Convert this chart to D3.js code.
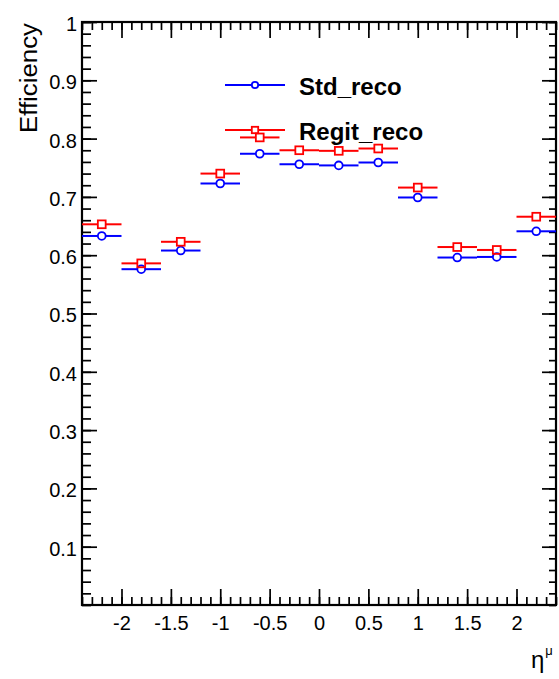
<!DOCTYPE html>
<html>
<head>
<meta charset="utf-8">
<script src="https://cdn.jsdelivr.net/npm/d3@7"></script>
<style>
body { margin: 0; background: #fff; }
svg { display: block; font-family: "Liberation Sans", Arial, Helvetica, sans-serif; }
</style>
</head>
<body>
<svg id="chart" width="559" height="679"></svg>
<script>

// bin edges in eta (12 bins of 0.4)
var etaEdges = [-2.4, -2.0, -1.6, -1.2, -0.8, -0.4, 0.0, 0.4, 0.8, 1.2, 1.6, 2.0, 2.4];

// efficiencies
var stdReco   = [0.633, 0.576, 0.608, 0.723, 0.774, 0.756, 0.754, 0.759, 0.699, 0.596, 0.597, 0.641];
var regitReco = [0.653, 0.586, 0.623, 0.740, 0.802, 0.780, 0.779, 0.783, 0.716, 0.614, 0.609, 0.666];

var seriesNames = ["Std_reco", "Regit_reco"];

// axis labels
var xTickValues = [-2, -1.5, -1, -0.5, 0, 0.5, 1, 1.5, 2];
var yTickValues = [0.1, 0.2, 0.3, 0.4, 0.5, 0.6, 0.7, 0.8, 0.9, 1];

var svg = d3.select("#chart"),
    margin = {top: 22, right: 3, bottom: 74, left: 82},
    width = 559 - margin.left - margin.right,
    height = 679 - margin.top - margin.bottom;

var x = d3.scaleLinear().domain([-2.4, 2.4]).range([0, width]);
var y = d3.scaleLinear().domain([0, 1]).range([height, 0]);

var g = svg.append("g")
    .attr("transform", "translate(" + margin.left + "," + margin.top + ")");

// minor tick positions (5 divisions per major)
var xMinor = d3.range(-24, 25).map(function(i) { return i / 10; });
var yMinor = d3.range(0, 51).map(function(i) { return i / 50; });

function styleAxis(sel) {
    sel.select(".domain").remove();
    sel.selectAll(".tick line").attr("stroke", "#000").attr("stroke-width", 1.7);
}

// bottom axis
g.append("g")
    .attr("transform", "translate(0," + height + ")")
    .call(d3.axisBottom(x).tickValues(xMinor).tickSize(-8).tickFormat(""))
    .call(styleAxis);
g.append("g")
    .attr("transform", "translate(0," + height + ")")
    .call(d3.axisBottom(x).tickValues(xTickValues).tickSize(-16).tickPadding(11)
          .tickFormat(function(d) { return String(d); }))
    .call(styleAxis)
    .selectAll("text")
      .attr("fill", "#000")
      .style("font-size", "20px");

// top axis (ticks only)
g.append("g")
    .call(d3.axisTop(x).tickValues(xMinor).tickSize(-8).tickFormat(""))
    .call(styleAxis);
g.append("g")
    .call(d3.axisTop(x).tickValues(xTickValues).tickSize(-16).tickFormat(""))
    .call(styleAxis);

// left axis
g.append("g")
    .call(d3.axisLeft(y).tickValues(yMinor).tickSize(-9).tickFormat(""))
    .call(styleAxis);
g.append("g")
    .call(d3.axisLeft(y).tickValues(yTickValues).tickSize(-15).tickPadding(5)
          .tickFormat(function(d) { return String(d); }))
    .call(styleAxis)
    .selectAll("text")
      .attr("fill", "#000")
      .attr("dy", "0.42em")
      .style("font-size", "20px");

// right axis (ticks only)
g.append("g")
    .attr("transform", "translate(" + width + ",0)")
    .call(d3.axisRight(y).tickValues(yMinor).tickSize(-7).tickFormat(""))
    .call(styleAxis);
g.append("g")
    .attr("transform", "translate(" + width + ",0)")
    .call(d3.axisRight(y).tickValues(yTickValues).tickSize(-14).tickFormat(""))
    .call(styleAxis);

// frame
g.append("rect")
    .attr("x", 0).attr("y", 0)
    .attr("width", width).attr("height", height)
    .attr("fill", "none")
    .attr("stroke", "#000")
    .attr("stroke-width", 2.2);

// build rows for each series
function makeRows(values) {
    return values.map(function(v, i) {
        return {lo: etaEdges[i], hi: etaEdges[i + 1], c: (etaEdges[i] + etaEdges[i + 1]) / 2, v: v};
    });
}

var series = [
    {name: seriesNames[0], rows: makeRows(stdReco),   color: "#0000ff", marker: "circle"},
    {name: seriesNames[1], rows: makeRows(regitReco), color: "#ff0000", marker: "square"}
];

var gap = 4;

// draw a marker (open circle or open square)
function drawMarker(sel, type, cx, cy, color, size) {
    if (type == "circle") {
        sel.append("circle")
            .attr("cx", cx).attr("cy", cy).attr("r", size)
            .attr("fill", "none").attr("stroke", color).attr("stroke-width", 1.8);
    } else {
        sel.append("rect")
            .attr("x", cx - size).attr("y", cy - size)
            .attr("width", 2 * size).attr("height", 2 * size)
            .attr("fill", "none").attr("stroke", color).attr("stroke-width", 1.8);
    }
}

series.forEach(function(s) {
    var sg = g.append("g").attr("class", "series");
    s.rows.forEach(function(d) {
        var cx = x(d.c), cy = y(d.v);
        // x error bar, broken at the marker
        sg.append("line")
            .attr("x1", x(d.lo)).attr("x2", cx - gap)
            .attr("y1", cy).attr("y2", cy)
            .attr("stroke", s.color).attr("stroke-width", 2);
        sg.append("line")
            .attr("x1", cx + gap).attr("x2", x(d.hi))
            .attr("y1", cy).attr("y2", cy)
            .attr("stroke", s.color).attr("stroke-width", 2);
        drawMarker(sg, s.marker, cx, cy, s.color, 3.9);
    });
});

// legend
var legend = svg.append("g").attr("class", "legend");
var legendY = [85, 130];
series.forEach(function(s, i) {
    var ly = legendY[i];
    legend.append("line")
        .attr("x1", 225).attr("x2", 251.5)
        .attr("y1", ly).attr("y2", ly)
        .attr("stroke", s.color).attr("stroke-width", 2);
    legend.append("line")
        .attr("x1", 258.5).attr("x2", 285)
        .attr("y1", ly).attr("y2", ly)
        .attr("stroke", s.color).attr("stroke-width", 2);
    drawMarker(legend, s.marker, 255, ly, s.color, 3.2);
    legend.append("text")
        .attr("x", 299)
        .attr("y", ly + 10)
        .attr("fill", "#000")
        .style("font-size", "24px")
        .style("font-weight", "bold")
        .text(s.name);
});

// y title
svg.append("text")
    .attr("transform", "translate(37,23) rotate(-90)")
    .attr("text-anchor", "end")
    .attr("fill", "#000")
    .attr("textLength", 110)
    .attr("lengthAdjust", "spacingAndGlyphs")
    .style("font-size", "23px")
    .text("Efficiency");

// x title: eta^mu
var xt = svg.append("text")
    .attr("x", 531)
    .attr("y", 668)
    .attr("fill", "#000")
    .style("font-size", "24px")
    .text("η");
xt.append("tspan")
    .attr("dx", 1)
    .attr("dy", -13)
    .style("font-size", "13px")
    .text("μ");

</script>
</body>
</html>
